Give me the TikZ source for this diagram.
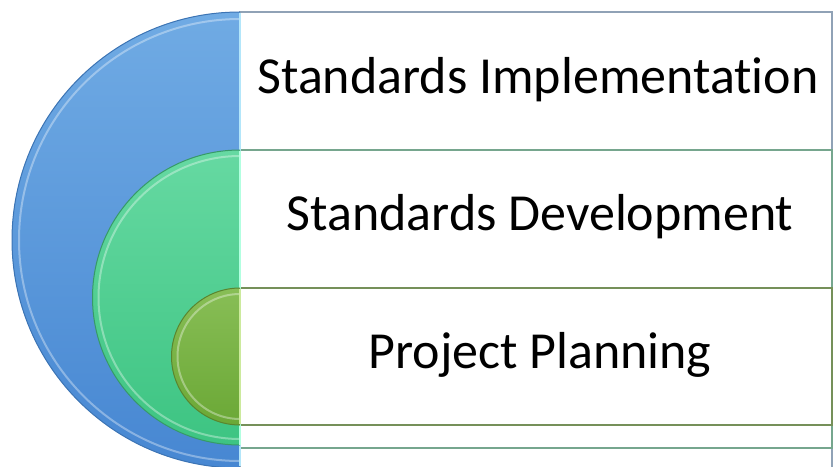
\documentclass[tikz,border=0pt]{standalone}
\usepackage{fontspec}
\setmainfont[Ligatures=NoCommon]{Carlito}
\definecolor{blueTop}{HTML}{70ABE4}
\definecolor{blueBot}{HTML}{4787D2}
\definecolor{blueEdge}{HTML}{3C74B4}
\definecolor{greenTop}{HTML}{66D9A2}
\definecolor{greenBot}{HTML}{3DC482}
\definecolor{greenEdge}{HTML}{379A68}
\definecolor{oliveTop}{HTML}{88BE56}
\definecolor{oliveBot}{HTML}{6BA836}
\definecolor{oliveEdge}{HTML}{5A852E}
\tikzset{
  label text/.style={font=\fontsize{52}{62}\selectfont, text=black},
  rim/.style={white, opacity=.35, line width=2pt},
}
\begin{document}
\begin{tikzpicture}[x=1pt,y=-1pt]
  \useasboundingbox (0,0) rectangle (835,466);
  \clip (0,0) rectangle (835,466);

  % frames
  \draw[draw=blueEdge!45!gray!70, line width=1.2pt] (240,12) rectangle (832,480);
  \draw[draw=greenEdge!60!gray!80, line width=1.2pt] (240,150) rectangle (832,448);
  \draw[draw=oliveEdge!70!gray!90, line width=1.2pt] (240,288) rectangle (832,425);

  % half disks
  \shade[top color=blueTop, bottom color=blueBot] (240,468) arc (90:270:228) -- cycle;
  \draw[blueEdge, line width=1pt] (240,468) arc (90:270:228);
  \draw[rim] (240,461) arc (90:270:221);
  \draw[cyan!30!white, line width=2.5pt] (240,13) -- (240,466);

  \shade[top color=greenTop, bottom color=greenBot] (240,445) arc (90:270:147.5) -- cycle;
  \draw[greenEdge, line width=1pt] (240,445) arc (90:270:147.5);
  \draw[rim] (240,439) arc (90:270:141.5);
  \draw[green!40!cyan!30!white, line width=2.5pt] (240,151) -- (240,445);

  \shade[top color=oliveTop, bottom color=oliveBot] (240,425) arc (90:270:68.5) -- cycle;
  \draw[oliveEdge, line width=1pt] (240,425) arc (90:270:68.5);
  \draw[rim] (240,419) arc (90:270:62.5);
  \draw[yellow!50!green!40!white, line width=2.5pt] (240,289) -- (240,424);

  % labels
  \node[label text] (impl)  at (538,80)  {Standards Implementation};
  \node[label text] (devel) at (540,217) {Standards Development};
  \node[label text] (plan)  at (540,355) {Project Planning};
\end{tikzpicture}
\end{document}
